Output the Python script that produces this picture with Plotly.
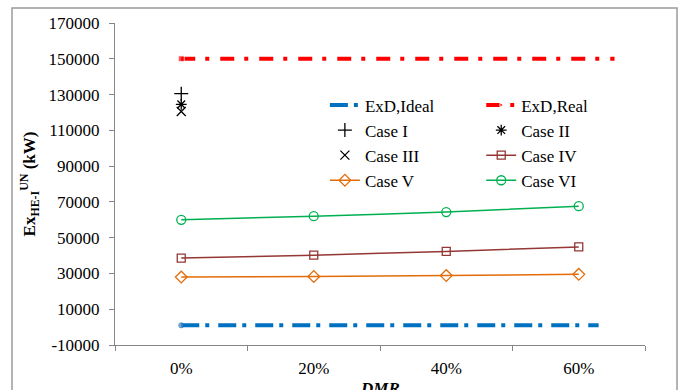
import plotly.graph_objects as go

categories = ["0%", "20%", "40%", "60%"]
case_iv = [38600, 40200, 42300, 44800]
case_v = [28000, 28300, 28800, 29500]
case_vi = [60000, 62000, 64300, 67600]
case_i = [130500]
case_ii = [124500]
case_iii = [120500]
exd_ideal = [1000, 1000]
exd_ideal_x = [0, 3.15]
exd_real = [150000, 150000]
exd_real_x = [0, 3.27]
ytick_vals = [-10000, 10000, 30000, 50000, 70000, 90000, 110000, 130000, 150000, 170000]
ytick_text = ["-10000", "10000", "30000", "50000", "70000", "90000", "110000", "130000", "150000", "170000"]
x_title = "DMR"

FONT = "Liberation Serif"
fig = go.Figure()

fig.add_trace(go.Scatter(x=exd_ideal_x, y=exd_ideal, xaxis="x2", name="ExD,Ideal", mode="lines+markers",
                         legend="legend",
                         line=dict(color="#0070C0", width=4, dash="18px,6px,4px,9px"),
                         marker=dict(size=[5, 0], color="#4F81BD", symbol="circle")))
fig.add_trace(go.Scatter(x=exd_real_x, y=exd_real, xaxis="x2", name="ExD,Real", mode="lines+markers",
                         legend="legend2",
                         line=dict(color="#FF0000", width=4, dash="14px,10px,4px,11px"),
                         marker=dict(size=[6, 0], color="#FF0000", symbol="square")))
fig.add_trace(go.Scatter(x=categories[:1], y=case_i, name="Case I", mode="markers", legend="legend",
                         marker=dict(symbol="cross-thin-open", size=10, color="black", line=dict(color="black", width=1.3))))
fig.add_trace(go.Scatter(x=categories[:1], y=case_ii, name="Case II", mode="markers", legend="legend2",
                         marker=dict(symbol="asterisk-open", size=9, color="black", line=dict(color="black", width=1.3))))
fig.add_trace(go.Scatter(x=categories[:1], y=case_iii, name="Case III", mode="markers", legend="legend",
                         marker=dict(symbol="x-thin-open", size=9, color="black", line=dict(color="black", width=1.3))))
fig.add_trace(go.Scatter(x=categories, y=case_iv, name="Case IV", mode="lines+markers", legend="legend2",
                         line=dict(color="#953735", width=1.5, shape="spline", smoothing=0.5),
                         marker=dict(symbol="square-open", size=8, color="#953735", line=dict(width=1.3))))
fig.add_trace(go.Scatter(x=categories, y=case_v, name="Case V", mode="lines+markers", legend="legend",
                         line=dict(color="#E36C09", width=1.5, shape="spline", smoothing=0.5),
                         marker=dict(symbol="diamond-open", size=9, color="#E36C09", line=dict(width=1.3))))
fig.add_trace(go.Scatter(x=categories, y=case_vi, name="Case VI", mode="lines+markers", legend="legend2",
                         line=dict(color="#00B050", width=1.5, shape="spline", smoothing=0.5),
                         marker=dict(symbol="circle-open", size=9, color="#00B050", line=dict(width=1.3))))

leg_common = dict(orientation="v", xanchor="left", yanchor="top", bgcolor="rgba(0,0,0,0)",
                  font=dict(size=17, family=FONT), traceorder="normal", tracegroupgap=0)

fig.update_layout(
    width=681, height=390,
    margin=dict(l=115, r=36, t=23, b=45),
    paper_bgcolor="white", plot_bgcolor="white",
    font=dict(family=FONT, size=17, color="black"),
    showlegend=True,
    legend=dict(x=0.396, y=0.80, **leg_common),
    legend2=dict(x=0.691, y=0.80, **leg_common),
    xaxis=dict(type="category", categoryorder="array", categoryarray=categories,
               range=[-0.5, 3.5], tickson="boundaries", ticks="outside", ticklen=5,
               tickcolor="#868686", showline=True, linecolor="#868686", linewidth=1,
               showgrid=False, zeroline=False, tickfont=dict(size=17, family=FONT),
               ticklabelstandoff=8, automargin=False),
    xaxis2=dict(overlaying="x", range=[-0.5, 3.5], visible=False),
    yaxis=dict(range=[-10000, 170000], tickvals=ytick_vals, ticktext=ytick_text,
               ticks="outside", ticklen=5, tickcolor="#868686", showline=True,
               linecolor="#868686", linewidth=1, showgrid=False, zeroline=False,
               tickfont=dict(size=17, family=FONT), ticklabelstandoff=6, automargin=False,
               title=dict(text="<b>Ex<sub>HE-I</sub><sup>UN</sup> (kW)</b>", standoff=8,
                          font=dict(size=17, family=FONT))),
    annotations=[dict(text="<b><i>" + x_title + "</i></b>", xref="paper", yref="paper",
                      x=0.5, y=-0.099, xanchor="center", yanchor="top", showarrow=False,
                      font=dict(size=17, family=FONT))],
    shapes=[dict(type="rect", xref="paper", yref="paper", x0=-0.1943, x1=1.0604, y0=-0.2, y1=1.0466,
                 line=dict(color="#9A9A9A", width=1.5), fillcolor="rgba(0,0,0,0)", layer="below")],
)

fig.write_html("out.html")
